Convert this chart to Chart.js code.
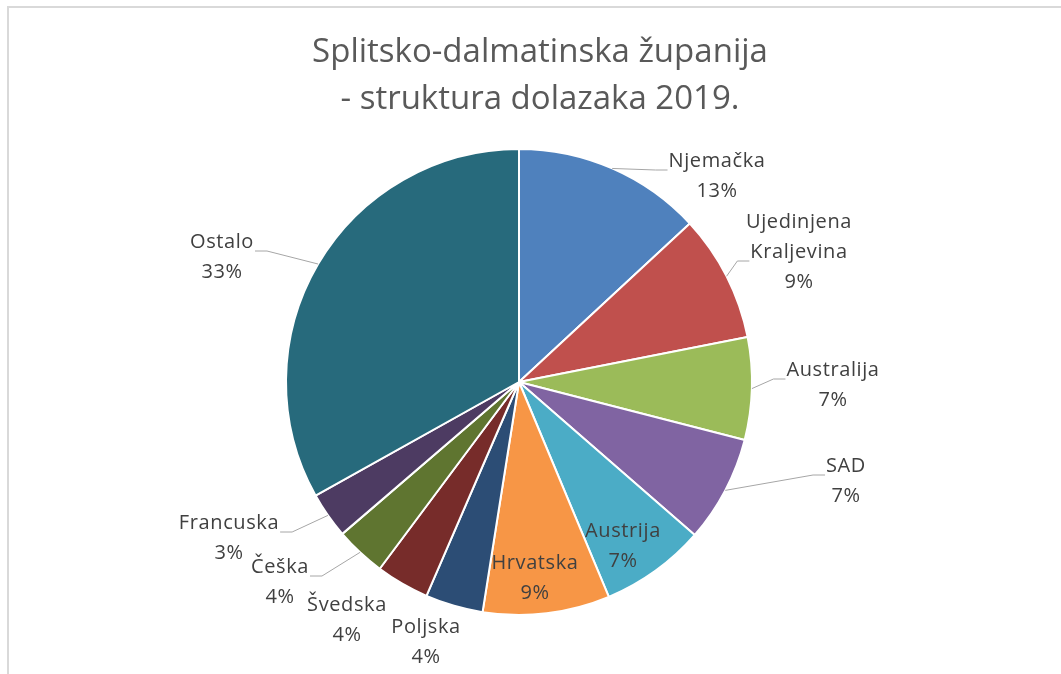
<!DOCTYPE html>
<html>
<head>
<meta charset="utf-8">
<script src="https://cdn.jsdelivr.net/npm/chart.js@4.4.1/dist/chart.umd.min.js"></script>
<style>
  body { margin: 0; background: #fff; }
  #wrap { position: relative; width: 1061px; height: 674px; overflow: hidden; }
  #frame { position: absolute; left: 7px; top: 6px; width: 1100px; height: 720px; border: 2px solid #d9d9d9; box-sizing: border-box; }
  #title { position: absolute; left: 0; top: 26px; width: 1080px; text-align: center; font-family: "Open Sans"; font-size: 33px; color: #595959; line-height: 47px; }
  #chart { position: absolute; left: 0; top: 0; }
</style>
</head>
<body>
<div id="wrap">
  <div id="frame"></div>
  <canvas id="chart" width="1061" height="674"></canvas>
  <div id="title">Splitsko-dalmatinska županija<br>- struktura dolazaka 2019.</div>
</div>
<script>
// data (share of arrivals, %)
const countries = ["Njemačka", "Ujedinjena Kraljevina", "Australija", "SAD", "Austrija", "Hrvatska",
                   "Poljska", "Švedska", "Češka", "Francuska", "Ostalo"];
const shares = [13.1, 8.8, 7.1, 7.4, 7.3, 8.8, 4.0, 3.7, 3.5, 3.2, 33.1];
const sliceColors = ["#4f81bd", "#c0504d", "#9bbb59", "#8064a2", "#4bacc6", "#f79646",
                     "#2c4d75", "#772c2a", "#5f7530", "#4d3b62", "#276a7c"];
// how the label name is broken into lines
const labelLines = [["Njemačka"], ["Ujedinjena", "Kraljevina"], ["Australija"], ["SAD"], ["Austrija"], ["Hrvatska"],
                    ["Poljska"], ["Švedska"], ["Češka"], ["Francuska"], ["Ostalo"]];

// label placement relative to pie centre, and whether a leader line is drawn
const labelPos = [[198, -206], [280, -130], [314, 3], [327, 99], [104, 164], [16, 196],
                  [-93, 260], [-172, 238], [-239, 200], [-290, 156], [-297, -125]];
const hasLeader = [true, true, true, true, false, false, false, false, true, true, true];

const total = shares.reduce((a, b) => a + b, 0);

const pieLabels = {
    id: "pieLabels",
    afterDatasetsDraw(chart) {
        const ctx = chart.ctx;
        const meta = chart.getDatasetMeta(0);
        ctx.save();
        ctx.font = '20px "Open Sans"';
        ctx.letterSpacing = "0.6px";
        ctx.textAlign = "center";
        ctx.textBaseline = "middle";
        meta.data.forEach(function(arc, i) {
            const p = arc.getProps(["x", "y", "startAngle", "endAngle", "outerRadius"], true);
            const lines = labelLines[i].concat([Math.round(shares[i] / total * 100) + "%"]);
            const lh = 30;
            const cx = p.x + labelPos[i][0];
            const cy = p.y + labelPos[i][1];
            const top = cy - (lines.length - 1) * lh / 2;

            if (hasLeader[i]) {
                const mid = (p.startAngle + p.endAngle) / 2;
                const sx = p.x + Math.cos(mid) * p.outerRadius;
                const sy = p.y + Math.sin(mid) * p.outerRadius;
                // leader meets the last name line, near its baseline
                const k = lines.length - 2;
                const w = ctx.measureText(lines[k]).width;
                const right = labelPos[i][0] > 0;
                const ex = right ? cx - w / 2 - 1 : cx + w / 2 + 1;
                const ey = top + k * lh + 9;
                ctx.beginPath();
                ctx.moveTo(sx, sy);
                ctx.lineTo(right ? ex - 12 : ex + 12, ey);
                ctx.lineTo(ex, ey);
                ctx.strokeStyle = "#a6a6a6";
                ctx.lineWidth = 1;
                ctx.stroke();
            }

            ctx.fillStyle = "#404040";
            lines.forEach(function(t, k) {
                ctx.fillText(t, cx, top + k * lh);
            });
        });
        ctx.restore();
    }
};

new Chart(document.getElementById("chart"), {
    type: "pie",
    data: {
        labels: countries,
        datasets: [{
            data: shares,
            backgroundColor: sliceColors,
            borderColor: "#ffffff",
            borderWidth: 2,
            hoverOffset: 0
        }]
    },
    options: {
        responsive: false,
        animation: false,
        layout: { padding: { left: 285, right: 308, top: 148, bottom: 58 } },
        plugins: {
            legend: { display: false },
            tooltip: { enabled: false },
            title: { display: false }
        }
    },
    plugins: [pieLabels]
});
</script>
</body>
</html>
